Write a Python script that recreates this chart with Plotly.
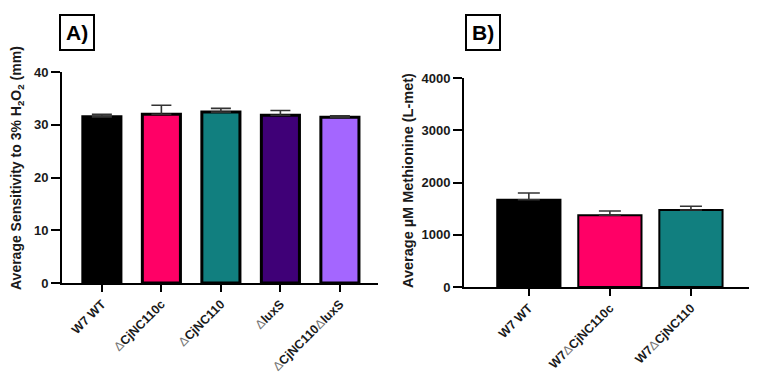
import plotly.graph_objects as go

D = '<span style="color:#777777;font-weight:normal">Δ</span>'

cats_a = ["W7 WT", D + "CjNC110c", D + "CjNC110", D + "luxS", D + "CjNC110" + D + "luxS"]
vals_a = [31.5, 32.0, 32.4, 31.8, 31.4]
err_a = [0.5, 1.7, 0.7, 0.9, 0.3]
colors_a = ["#000000", "#FF0066", "#117F7F", "#3F0077", "#A466FF"]

cats_b = ["W7 WT", "W7" + D + "CjNC110c", "W7" + D + "CjNC110"]
vals_b = [1670, 1375, 1475]
err_b = [130, 80, 70]
colors_b = ["#000000", "#FF0066", "#117F7F"]

ticks_a = [0, 10, 20, 30, 40]
ticks_b = [0, 1000, 2000, 3000, 4000]

# page body adds an 8px margin; size the figure to fill the rest of the window
OFF = 8
W, H = 757 - OFF, 379 - OFF
FONT = "Arial, Liberation Sans, sans-serif"
INK = "#1a1a1a"

def px(x):
    return (x - OFF) / W

def py(y):
    return 1 - (y - OFF) / H

fig = go.Figure()
fig.add_trace(go.Bar(
    x=list(range(len(cats_a))), y=vals_a, width=0.64,
    marker=dict(color=colors_a, line=dict(color="#000000", width=3)),
    error_y=dict(type="data", array=err_a, arrayminus=[0] * len(err_a), symmetric=False,
                 color="#333333", thickness=1.6, width=10),
    xaxis="x", yaxis="y", showlegend=False))
fig.add_trace(go.Bar(
    x=list(range(len(cats_b))), y=vals_b, width=0.78,
    marker=dict(color=colors_b, line=dict(color="#000000", width=2)),
    error_y=dict(type="data", array=err_b, arrayminus=[0] * len(err_b), symmetric=False,
                 color="#333333", thickness=1.6, width=11),
    xaxis="x2", yaxis="y2", showlegend=False))

line_common = dict(showline=True, linecolor="#000000", linewidth=2, ticks="outside",
                   tickwidth=2, tickcolor="#000000", showgrid=False, zeroline=False,
                   automargin=False)
yfont = dict(family=FONT, size=13, color=INK, weight="bold")
xfont = dict(family=FONT, size=12.5, color=INK, weight="bold")

fig.update_layout(
    width=W, height=H, margin=dict(l=0, r=0, t=0, b=0, autoexpand=False),
    paper_bgcolor="white", plot_bgcolor="white",
    xaxis=dict(domain=[px(62), px(378)], range=[-0.67, 4.64], anchor="y",
               tickmode="array", tickvals=list(range(len(cats_a))), ticktext=cats_a,
               tickangle=-45, ticklen=7, tickfont=xfont, **line_common),
    yaxis=dict(domain=[py(283), py(72)], range=[0, 40], anchor="x",
               tickvals=ticks_a, ticklen=9, tickfont=yfont, **line_common),
    xaxis2=dict(domain=[px(464), px(757)], range=[-0.80, 2.815], anchor="y2",
                tickmode="array", tickvals=list(range(len(cats_b))), ticktext=cats_b,
                tickangle=-45, ticklen=7, tickfont=xfont, **line_common),
    yaxis2=dict(domain=[py(287), py(78)], range=[0, 4000], anchor="x2",
                tickvals=ticks_b, ticklen=9, tickfont=yfont, **line_common),
)

fig.add_annotation(text="Average Sensitivity to 3% H<sub>2</sub>O<sub>2</sub> (mm)",
                   x=px(17), y=py(168), xref="paper", yref="paper", textangle=-90,
                   showarrow=False, xanchor="center", yanchor="middle",
                   font=dict(family=FONT, size=14, color=INK, weight="bold"))
fig.add_annotation(text="Average µM Methionine (L-met)",
                   x=px(408), y=py(181), xref="paper", yref="paper", textangle=-90,
                   showarrow=False, xanchor="center", yanchor="middle",
                   font=dict(family=FONT, size=14.5, color=INK, weight="bold"))

for lab, cx in (("A)", 77), ("B)", 483)):
    fig.add_annotation(text=lab, x=px(cx), y=py(33), xref="paper", yref="paper",
                       showarrow=False, xanchor="center", yanchor="middle",
                       font=dict(family=FONT, size=21, color="#000000", weight="bold"),
                       bordercolor="#000000", borderwidth=2, borderpad=5, bgcolor="white")

fig.write_html("out.html")
